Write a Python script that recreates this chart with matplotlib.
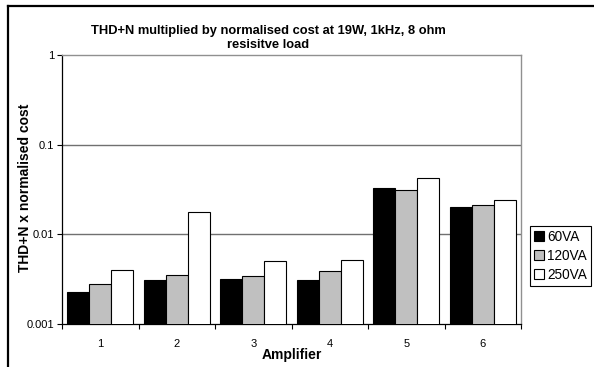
import matplotlib
matplotlib.use("Agg")
import matplotlib.pyplot as plt
import numpy as np
from matplotlib.lines import Line2D

plt.rcParams['font.family'] = ['Liberation Sans', 'DejaVu Sans']

categories = ['1', '2', '3', '4', '5', '6']
series_names = ['60VA', '120VA', '250VA']
va60 = [0.0022, 0.0030, 0.0031, 0.0030, 0.0328, 0.0200]
va120 = [0.0027, 0.0034, 0.0033, 0.0038, 0.0312, 0.0210]
va250 = [0.0039, 0.0177, 0.0050, 0.0051, 0.0420, 0.0239]
colors = ['#000000', '#C0C0C0', '#FFFFFF']

fig = plt.figure(figsize=(5.94, 3.67), dpi=100)
ax = fig.add_axes([62/594, 1-324/367, (521-62)/594, (324-55)/367])

x = np.arange(len(categories))
w = 1/3.5
for i, (vals, c, name) in enumerate(zip([va60, va120, va250], colors, series_names)):
    ax.bar(x + (i-1)*w, vals, width=w, bottom=0.0001, color=c, edgecolor='black',
           linewidth=0.8, label=name, zorder=3)

ax.set_yscale('log')
ax.set_ylim(0.001, 1)
ax.set_xlim(-0.5, 5.5)
ax.set_yticks([0.001, 0.01, 0.1, 1])
ax.set_yticklabels(['0.001', '0.01', '0.1', '1'])
ax.yaxis.set_minor_locator(matplotlib.ticker.NullLocator())
for yv in [0.01, 0.1]:
    ax.axhline(yv, color='#707070', linewidth=1.0, zorder=1)

ax.set_xticks(np.arange(-0.5, 6.0, 1.0))
ax.set_xticklabels([])
ax.set_xticks(x, minor=True)
ax.set_xticklabels(categories, minor=True)
ax.tick_params(axis='x', which='major', direction='out', length=3.5, width=0.8)
ax.tick_params(axis='x', which='minor', length=0, pad=11, labelsize=8)
ax.tick_params(axis='y', which='major', direction='out', length=3.5, width=0.8, labelsize=8, pad=2)

for s in ['top', 'right']:
    ax.spines[s].set_color('#909090')
    ax.spines[s].set_linewidth(1.0)
for s in ['left', 'bottom']:
    ax.spines[s].set_color('black')
    ax.spines[s].set_linewidth(0.9)

fig.text(292/594, 1-355/367, 'Amplifier', ha='center', va='center',
         fontsize=10, fontweight='bold')
fig.text(25/594, 1-188/367, 'THD+N x normalised cost', ha='center', va='center',
         rotation=90, fontsize=10, fontweight='bold')

fig.text(268/594, 1-31/367, 'THD+N multiplied by normalised cost at 19W, 1kHz, 8 ohm',
         ha='center', va='center', fontsize=9.3, fontweight='bold')
fig.text(268/594, 1-44.5/367, 'resisitve load',
         ha='center', va='center', fontsize=9.3, fontweight='bold')

leg = fig.legend(loc='upper left', bbox_to_anchor=(530/594, 1-226/367), fontsize=9.8,
                 frameon=True, fancybox=False, edgecolor='black', framealpha=1,
                 handlelength=0.75, handleheight=0.75, handletextpad=0.2,
                 borderpad=0.3, labelspacing=0.35, borderaxespad=0)
leg.get_frame().set_linewidth(0.8)

# chart border (left and top visible)
fig.add_artist(Line2D([8/594, 8/594], [0, 1-6/367], transform=fig.transFigure,
                      color='black', linewidth=1.6))
fig.add_artist(Line2D([8/594, 1], [1-6/367, 1-6/367], transform=fig.transFigure,
                      color='black', linewidth=1.6))

fig.savefig('out.png', dpi=100)
